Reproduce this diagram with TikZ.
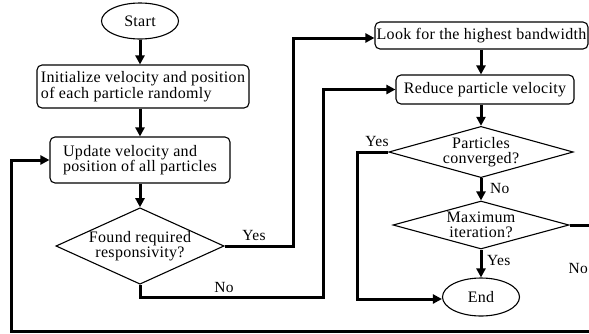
\documentclass[tikz,border=0pt]{standalone}
\usepackage{fontspec}
\setmainfont{Liberation Serif}[LetterSpace=2.0]
\usetikzlibrary{arrows.meta,shapes.geometric}

\begin{document}
\begin{tikzpicture}[x=1pt, y=-1pt,
  font=\fontsize{16}{15.5}\selectfont,
  procbox/.style={draw, rounded corners=5pt, line width=1.1pt, align=left, inner sep=0pt},
  decide/.style={draw, diamond, line width=1.1pt, align=center, inner sep=0pt},
  terminal/.style={draw, ellipse, line width=1.1pt, inner sep=0pt},
  flow/.style={line width=3pt, -{Triangle[length=9pt,width=9pt]}},
  tag/.style={font=\fontsize{15.5}{15.5}\selectfont, inner sep=0pt}]
\useasboundingbox (0,0) rectangle (589,333);
\clip (0,0) rectangle (589,333);
% left column
\node[terminal, minimum width=77pt, minimum height=36pt] (start) at (140,21) {Start};
\node[procbox, minimum width=212pt, minimum height=43pt] (init) at (143,86.5)
  {Initialize velocity and position\\of each particle randomly};
\node[procbox, minimum width=180pt, minimum height=46pt] (update) at (140,160)
  {Update velocity and\\position of all particles};
\node[decide, aspect=2.2, minimum width=165pt, minimum height=74pt] (found) at (140,246)
  {Found required\\responsivity?};
% right column
\node[procbox, minimum width=213pt, minimum height=27pt] (look) at (481.5,35.5)
  {Look for the highest bandwidth};
\node[procbox, minimum width=178pt, minimum height=29pt] (reduce) at (485,89.5)
  {Reduce particle velocity};
\node[decide, aspect=3.6, minimum width=175pt, minimum height=48pt] (conv) at (481,152)
  {Particles\\converged?};
\node[decide, aspect=3.6, minimum width=176pt, minimum height=48pt] (maxit) at (481,225)
  {Maximum\\iteration?};
\node[terminal, minimum width=77pt, minimum height=38pt] (end) at (481,297) {End};
% bends
\coordinate (yesbend) at (293,38);
\coordinate (nobend) at (323,297);
\coordinate (convbend) at (357,299);
\coordinate (farright) at (600,331);
\coordinate (loopcorner) at (11,331);
% connectors
\draw[flow] (start.south) -- (start.south |- init.north);
\draw[flow] (update |- init.south) -- (update.north);
\draw[flow] (update.south) -- (found.north);
\draw[flow] (found.east) -| (yesbend) -- (yesbend -| look.west);
\draw[flow] (found.south) |- (nobend) |- (reduce.west);
\draw[flow] (look.south -| conv) -- (conv |- reduce.north);
\draw[flow] (conv |- reduce.south) -- (conv.north);
\draw[flow] (conv.west) -| (convbend) -- (convbend -| end.west);
\draw[flow] (conv.south) -- (maxit.north);
\draw[flow] (maxit.south) -- (end.north);
\draw[flow] (maxit.east) -| (farright) -- (loopcorner) |- (update.west);
% labels
\node[tag] (yesfound) at (254,235) {Yes};
\node[tag] (nofound) at (224,287) {No};
\node[tag] (yesconv) at (377,141) {Yes};
\node[tag, anchor=west] (noconv) at (490,188) {No};
\node[tag, anchor=west] (yesmax) at (487,260) {Yes};
\node[tag, anchor=east] (nomax) at (588,268) {No};
\end{tikzpicture}
\end{document}
